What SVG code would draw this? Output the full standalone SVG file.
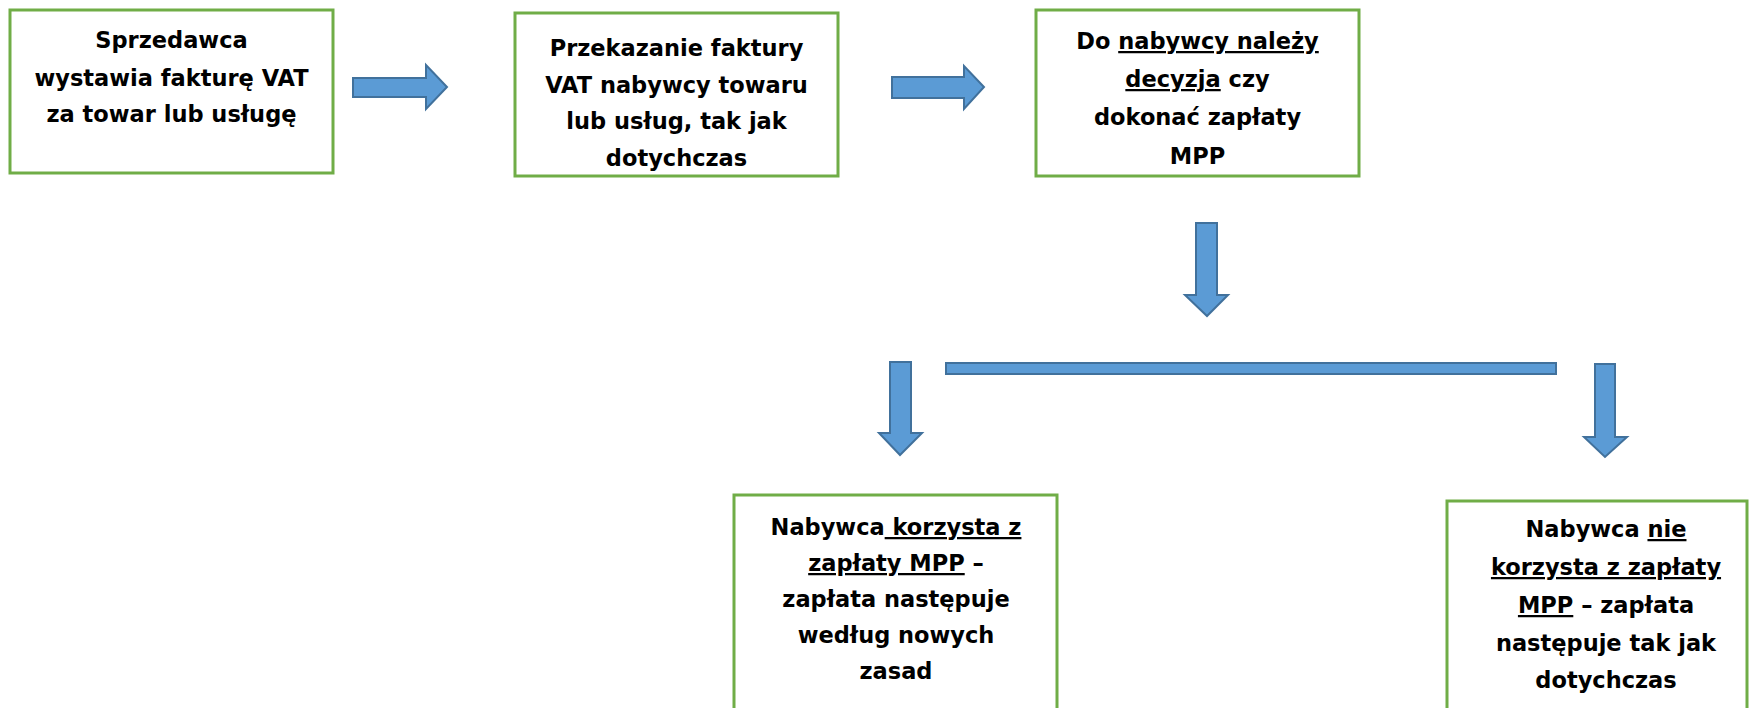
<svg xmlns="http://www.w3.org/2000/svg" width="1749" height="708" viewBox="0 0 1749 708">
<style>
.box{fill:#ffffff;stroke:#70AD47;stroke-width:3}
.arr{fill:#5B9BD5;stroke:#41719C;stroke-width:2;stroke-linejoin:miter}
.t{font-family:"DejaVu Sans",Arial,sans-serif;font-weight:bold;font-size:22.5px;fill:#000;text-anchor:middle}
.u{text-decoration:underline}
</style>
<rect x="0" y="0" width="1749" height="708" fill="#ffffff"/>
<g id="n1">
<rect class="box" x="10" y="10" width="323" height="163"/>
<text class="t" x="171.5" y="48">Sprzedawca</text>
<text class="t" x="171.5" y="86">wystawia fakturę VAT</text>
<text class="t" x="171.5" y="122">za towar lub usługę</text>
</g>
<g id="n2">
<rect class="box" x="515" y="13" width="323" height="163"/>
<text class="t" x="676.5" y="56">Przekazanie faktury</text>
<text class="t" x="676.5" y="92.5">VAT nabywcy towaru</text>
<text class="t" x="676.5" y="129">lub usług, tak jak</text>
<text class="t" x="676.5" y="166">dotychczas</text>
</g>
<g id="n3">
<rect class="box" x="1036" y="10" width="323" height="166"/>
<text class="t" x="1197.5" y="49">Do <tspan class="u">nabywcy należy</tspan></text>
<text class="t" x="1197.5" y="87"><tspan class="u">decyzja</tspan> czy</text>
<text class="t" x="1197.5" y="125">dokonać zapłaty</text>
<text class="t" x="1197.5" y="164">MPP</text>
</g>
<g id="n4">
<rect class="box" x="734" y="495" width="323" height="230"/>
<text class="t" x="896" y="535">Nabywca<tspan class="u"> korzysta z</tspan></text>
<text class="t" x="896" y="571"><tspan class="u">zapłaty MPP</tspan> –</text>
<text class="t" x="896" y="607">zapłata następuje</text>
<text class="t" x="896" y="643">według nowych</text>
<text class="t" x="896" y="679">zasad</text>
</g>
<g id="n5">
<rect class="box" x="1447" y="501" width="300" height="230"/>
<text class="t" x="1606" y="537">Nabywca <tspan class="u">nie</tspan></text>
<text class="t" x="1606" y="575"><tspan class="u">korzysta z zapłaty</tspan></text>
<text class="t" x="1606" y="613"><tspan class="u">MPP</tspan> – zapłata</text>
<text class="t" x="1606" y="651">następuje tak jak</text>
<text class="t" x="1606" y="688">dotychczas</text>
</g>
<g id="connectors">
<polygon class="arr" points="353,78 426,78 426,65 447,87 426,109 426,97 353,97"/>
<polygon class="arr" points="892,77 964,77 964,66 984,87 964,109 964,98 892,98"/>
<polygon class="arr" points="1196,223 1217,223 1217,295 1228,295 1207,316 1185,295 1196,295"/>
<rect class="arr" x="946" y="363" width="610" height="11"/>
<polygon class="arr" points="890,362 911,362 911,433 922,433 900,455 879,433 890,433"/>
<polygon class="arr" points="1595,364 1615,364 1615,437 1627,437 1605,457 1584,437 1595,437"/>
</g>
</svg>
